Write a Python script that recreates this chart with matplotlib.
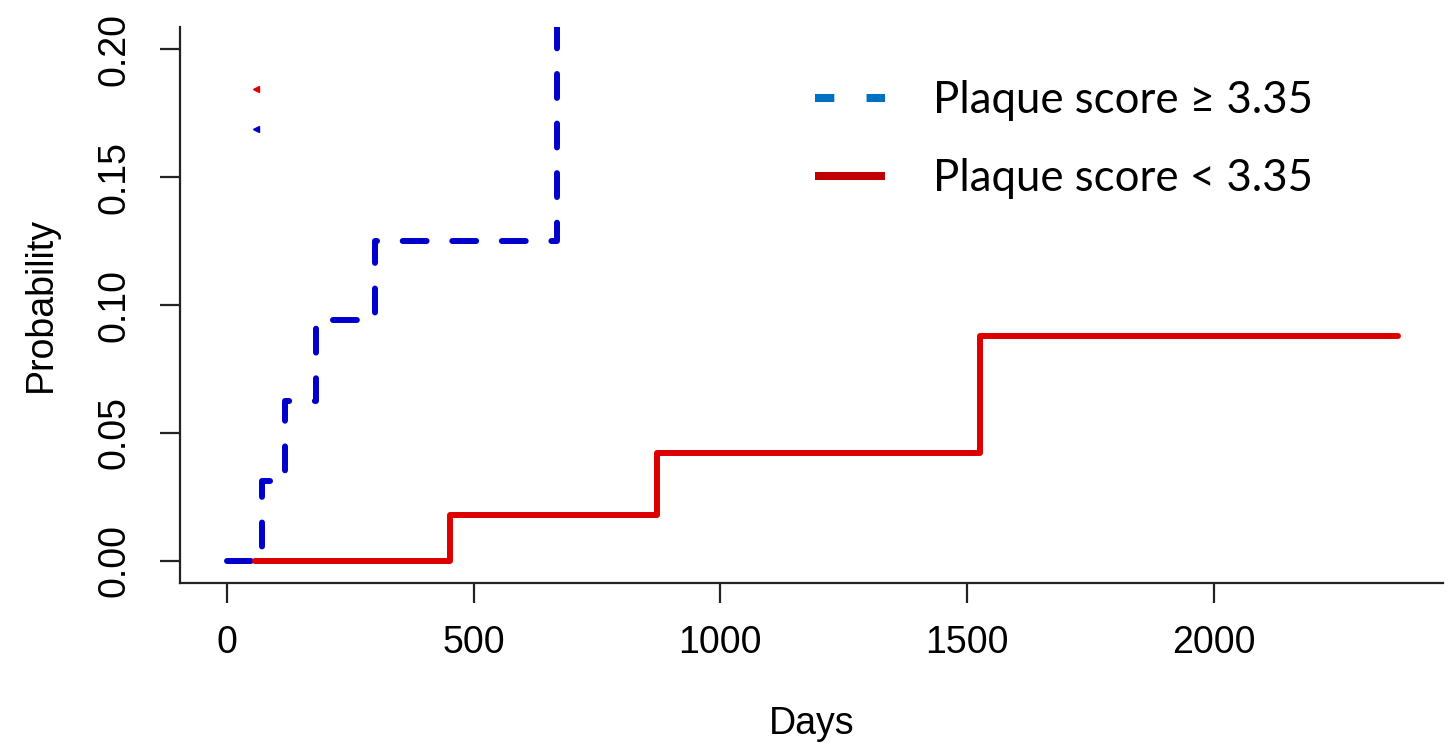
import matplotlib
matplotlib.use('Agg')
import matplotlib.pyplot as plt
from matplotlib.lines import Line2D

# cumulative incidence
high_days = [0, 71, 118, 181, 300, 669]
high_prob = [0.0, 0.03125, 0.0625, 0.094, 0.125, 0.25]

low_days = [57, 452, 872, 1527, 2373]
low_prob = [0.0, 0.018, 0.042, 0.088, 0.088]

# small leftover marks near the top left
mark_days = [59, 59]
mark_prob = [0.1844, 0.1688]
mark_colors = ['#DD0000', '#0000CC']

x_ticks = [0, 500, 1000, 1500, 2000]
y_ticks = [0.00, 0.05, 0.10, 0.15, 0.20]
legend_labels = ['Plaque score \u2265 3.35', 'Plaque score < 3.35']

plt.rcParams['font.family'] = ['Liberation Sans', 'DejaVu Sans']

fig = plt.figure(figsize=(14.52, 7.55), dpi=100)
ax = fig.add_axes([180 / 1452, 172 / 755, 1263 / 1452, 556 / 755])

ax.step(low_days, low_prob, where='post', color='#DD0000', lw=4.3,
        solid_joinstyle='round', solid_capstyle='round', zorder=3)
ax.step(high_days, high_prob, where='post', color='#0000CC', lw=4.3,
        dashes=(4.0, 4.3), dash_capstyle='round', dash_joinstyle='round', zorder=2)
for d, p, c in zip(mark_days, mark_prob, mark_colors):
    ax.plot(d, p, marker='<', ms=5, color=c, lw=0)

ax.set_xlim(-95.3, 2465)
ax.set_ylim(-0.0086, 0.2086)
ax.set_xticks(x_ticks)
ax.set_xticklabels([str(t) for t in x_ticks])
ax.set_yticks(y_ticks)
ax.set_yticklabels(['%.2f' % t for t in y_ticks], rotation=90, va='center')

ax.spines['top'].set_visible(False)
ax.spines['right'].set_visible(False)
for s in ('left', 'bottom'):
    ax.spines[s].set_linewidth(1.6)
    ax.spines[s].set_color('#222222')
ax.tick_params(axis='both', length=14.4, width=1.6, color='#222222', labelsize=27)
ax.tick_params(axis='x', pad=16)
ax.tick_params(axis='y', pad=20)

ax.set_xlabel('Days', fontsize=27, labelpad=32)
ax.set_ylabel('Probability', fontsize=27, labelpad=27)

handles = [
    Line2D([], [], color='#0070C0', lw=5.8, dashes=(2.4, 4.0), dash_capstyle='butt'),
    Line2D([], [], color='#C00000', lw=5.8, solid_capstyle='butt'),
]
ax.legend(handles, legend_labels, loc='upper left', bbox_to_anchor=(815 / 1452, 1 - 80 / 755),
          bbox_transform=fig.transFigure, frameon=False, borderpad=0, borderaxespad=0,
          handlelength=1.6, handletextpad=1.1, labelspacing=0.85,
          prop={'family': 'Lato', 'size': 31.5})

fig.savefig('out.png', dpi=100)
